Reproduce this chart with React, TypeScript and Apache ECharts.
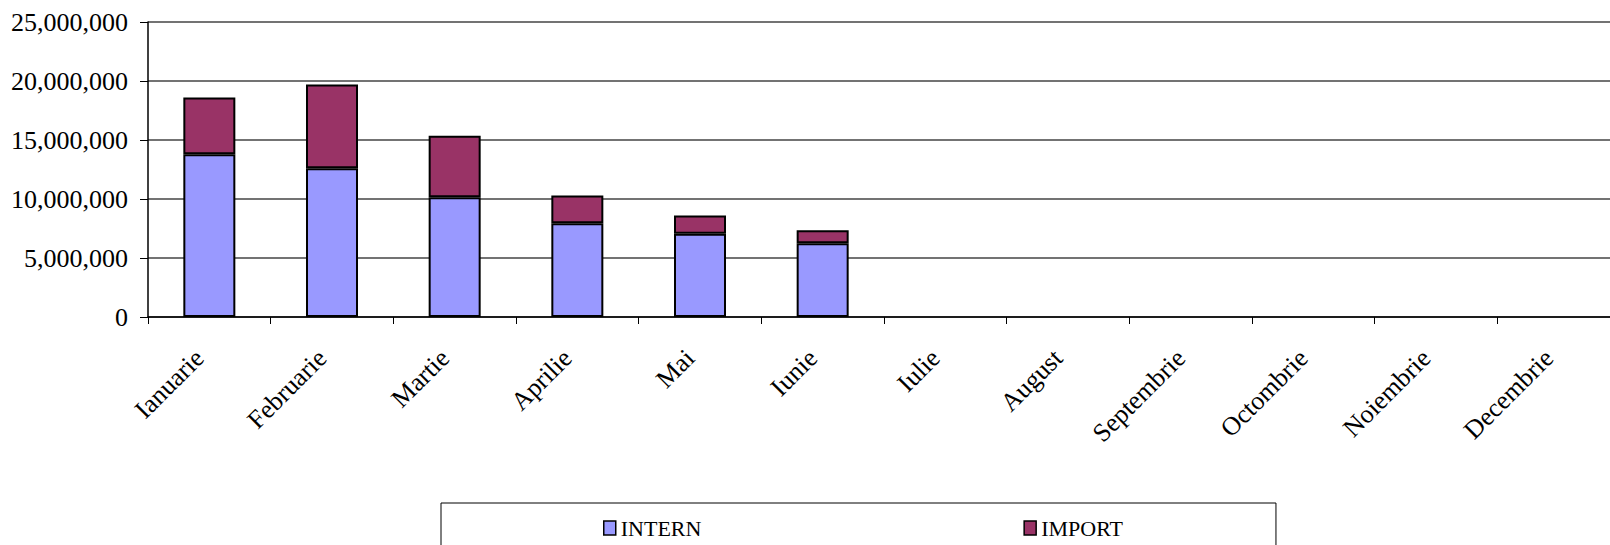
import React, { useEffect, useRef } from "react";
import * as echarts from "echarts";

const months = [
  "Ianuarie", "Februarie", "Martie", "Aprilie", "Mai", "Iunie",
  "Iulie", "August", "Septembrie", "Octombrie", "Noiembrie", "Decembrie",
];
const internValues = [13800000, 12600000, 10150000, 7950000, 7050000, 6250000, null, null, null, null, null, null];
const importValues = [4800000, 7100000, 5200000, 2350000, 1550000, 1100000, null, null, null, null, null, null];
const seriesNames = ["INTERN", "IMPORT"];

const FONT = '"Liberation Serif", "Times New Roman", serif';

export default function App() {
  const ref = useRef<HTMLDivElement>(null);
  useEffect(() => {
    if (!ref.current) return;
    const chart = echarts.init(ref.current, undefined, { renderer: "svg" });
    chart.setOption({
      animation: false,
      backgroundColor: "#ffffff",
      textStyle: { fontFamily: FONT, color: "#000" },
      grid: {
        left: 148,
        top: 22,
        width: 1472,
        height: 295,
        containLabel: false,
        outerBoundsMode: "none",
      },
      legend: {
        data: seriesNames,
        left: 441,
        top: 503,
        padding: [14, 153, 30, 162],
        itemGap: 322,
        itemWidth: 12,
        itemHeight: 14,
        borderColor: "#000",
        borderWidth: 1,
        borderRadius: 0,
        icon: "rect",
        itemStyle: { borderColor: "#000", borderWidth: 1.5 },
        textStyle: { fontFamily: FONT, fontSize: 22, color: "#000" },
      },
      xAxis: {
        type: "category",
        data: months,
        boundaryGap: true,
        axisLine: { lineStyle: { color: "#000", width: 1.5 } },
        axisTick: { show: true, length: 7, inside: false, lineStyle: { color: "#000" } },
        axisLabel: {
          interval: 0,
          rotate: 45,
          margin: 27,
          padding: [0, 14, 0, 0],
          fontFamily: FONT,
          fontSize: 26,
          color: "#000",
        },
      },
      yAxis: {
        type: "value",
        min: 0,
        max: 25000000,
        interval: 5000000,
        axisLine: { show: true, lineStyle: { color: "#000", width: 1.5 } },
        axisTick: { show: true, length: 8, lineStyle: { color: "#000" } },
        splitLine: { show: true, lineStyle: { color: "#444", width: 1.5 } },
        axisLabel: {
          margin: 20,
          fontFamily: FONT,
          fontSize: 26,
          color: "#000",
          formatter: (v: number) => v.toLocaleString("en-US"),
        },
      },
      series: [
        {
          name: seriesNames[0],
          type: "bar",
          stack: "total",
          barWidth: 52,
          data: internValues,
          itemStyle: { color: "#9999FF", borderColor: "#000", borderWidth: 2 },
        },
        {
          name: seriesNames[1],
          type: "bar",
          stack: "total",
          barWidth: 52,
          data: importValues,
          itemStyle: { color: "#993366", borderColor: "#000", borderWidth: 2 },
        },
      ],
    });
    return () => chart.dispose();
  }, []);
  return (
    <div
      ref={ref}
      style={{ position: "fixed", left: 0, top: 0, width: 1610, height: 545, background: "#fff" }}
    />
  );
}
